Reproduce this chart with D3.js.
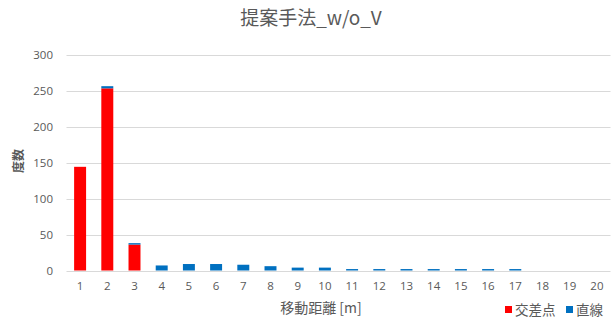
<!DOCTYPE html>
<html>
<head>
<meta charset="utf-8">
<script src="https://cdn.jsdelivr.net/npm/d3@7"></script>
<style>
  html, body { margin: 0; padding: 0; background: #fff; }
  svg { display: block; }
  text { font-family: "Noto Sans CJK JP", "Noto Sans", sans-serif; fill: #595959; }
</style>
</head>
<body>
<svg id="chart" width="611" height="320"></svg>
<script>
// Movement distance bins [m]
const categories = ["1","2","3","4","5","6","7","8","9","10","11","12","13","14","15","16","17","18","19","20"];
// Counts per bin for each series
const intersection = [144, 253, 36, 0, 0, 0, 0, 0, 0, 0, 0, 0, 0, 0, 0, 0, 0, 0, 0, 0]; // 交差点
const straight     = [0, 3, 2, 7, 9, 9, 8, 6, 4, 4, 2, 2, 2, 2, 2, 2, 2, 0, 0, 0];       // 直線
const seriesNames = ["交差点", "直線"];
const seriesColors = ["#FF0000", "#0070C0"];
const yTicks = [0, 50, 100, 150, 200, 250, 300];

const title = "提案手法_w/o_V";
const xTitle = "移動距離 [m]";
const yTitle = "度数";

const svg = d3.select("#chart");

const rows = categories.map((c, i) => ({ cat: c, "交差点": intersection[i], "直線": straight[i] }));
const stacked = d3.stack().keys(seriesNames)(rows);

const x = d3.scaleBand().domain(categories).range([66.5, 610.5]).paddingInner(0.56).paddingOuter(0.28);
const y = d3.scaleLinear().domain([0, 300]).range([270.5, 54.5]);

// Horizontal gridlines
svg.append("g")
  .selectAll("line")
  .data(yTicks)
  .join("line")
  .attr("x1", 66.5).attr("x2", 610.5)
  .attr("y1", d => Math.round(y(d)) + 0.5).attr("y2", d => Math.round(y(d)) + 0.5)
  .attr("stroke", "#D9D9D9").attr("stroke-width", 1);

// Y axis labels
const yAxis = d3.axisLeft(y).tickValues(yTicks).tickSize(0).tickPadding(0);
svg.append("g")
  .attr("transform", "translate(53,0)")
  .call(yAxis)
  .call(g => g.select(".domain").remove())
  .selectAll("text")
  .attr("font-size", 11.5)
  .attr("fill", "#595959")
  .style("font-family", "'Open Sans', 'Noto Sans', sans-serif");

// Stacked bars
svg.append("g")
  .selectAll("g")
  .data(stacked)
  .join("g")
  .attr("fill", (d, i) => seriesColors[i])
  .selectAll("rect")
  .data(d => d)
  .join("rect")
  .attr("x", d => x(d.data.cat))
  .attr("width", x.bandwidth())
  .attr("y", d => y(d[1]))
  .attr("height", d => Math.max(0, y(d[0]) - y(d[1])));

// X axis
const xAxis = d3.axisBottom(x).tickSize(0).tickPadding(0);
svg.append("g")
  .attr("transform", "translate(0,282)")
  .call(xAxis)
  .call(g => g.select(".domain").remove())
  .selectAll("text")
  .attr("font-size", 11.5)
  .attr("fill", "#595959")
  .style("font-family", "'Open Sans', 'Noto Sans', sans-serif");

// Title
svg.append("text")
  .attr("x", 311).attr("y", 25)
  .attr("text-anchor", "middle")
  .attr("font-size", 19)
  .text(title);

// Axis titles
svg.append("text")
  .attr("x", 321).attr("y", 313)
  .attr("text-anchor", "middle")
  .attr("font-size", 14)
  .text(xTitle);

svg.append("text")
  .attr("transform", "translate(23,161) rotate(-90)")
  .attr("text-anchor", "middle")
  .attr("font-size", 12)
  .attr("font-weight", "bold")
  .text(yTitle);

// Legend
const legendX = [505, 566];
const legend = svg.append("g")
  .selectAll("g")
  .data(seriesNames)
  .join("g")
  .attr("transform", (d, i) => `translate(${legendX[i]},310)`);
legend.append("rect")
  .attr("x", 0).attr("y", -4).attr("width", 7).attr("height", 7)
  .attr("fill", (d, i) => seriesColors[i]);
legend.append("text")
  .attr("x", 10).attr("y", 5)
  .attr("font-size", 13.5)
  .text(d => d);
</script>
</body>
</html>
